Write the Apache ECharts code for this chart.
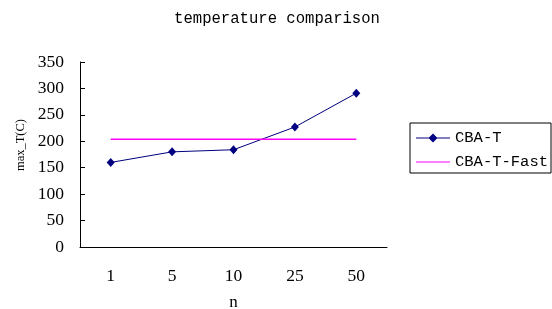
<!DOCTYPE html>
<html><head><meta charset="utf-8">
<script src="https://cdn.jsdelivr.net/npm/echarts@6/dist/echarts.min.js"></script>
<style>html,body{margin:0;padding:0;background:#fff}#c{width:552px;height:309px}</style>
</head><body><div id="c"></div>
<script>
const categories = ['1', '5', '10', '25', '50'];
const cbaT = [160, 180, 184, 227, 291];
const cbaTFast = [204, 204, 204, 204, 204];
const yTicks = [0, 50, 100, 150, 200, 250, 300, 350];

const MONO = '"Liberation Mono", monospace';
const SERIF = '"Liberation Serif", serif';
const chart = echarts.init(document.getElementById('c'), null, {renderer: 'canvas'});
chart.setOption({
  animation: false,
  backgroundColor: '#ffffff',
  title: {
    text: 'temperature comparison',
    left: 272, top: 6, textAlign: 'center',
    textStyle: {fontFamily: MONO, fontSize: 15.6, fontWeight: 'normal', color: '#000'}
  },
  legend: {
    orient: 'vertical', left: 410, top: 123,
    borderColor: '#000', borderWidth: 1, padding: [7, 3, 3, 6],
    itemWidth: 34, itemHeight: 9, itemGap: 8,
    textStyle: {fontFamily: MONO, fontSize: 15.5, color: '#000', padding: [0, 0, 0, 0]},
    data: [
      {name: 'CBA-T', icon: 'path://M0,4.5L34,4.5L34,5.5L0,5.5ZM17,0.5L21.5,5L17,9.5L12.5,5Z'},
      {name: 'CBA-T-Fast', icon: 'path://M0,4.5L34,4.5L34,5.5L0,5.5Z'}
    ]
  },
  grid: {left: 80, right: 165, top: 62, bottom: 62, outerBoundsMode: 'none', containLabel: false},
  xAxis: {
    type: 'category', data: categories, boundaryGap: true,
    name: 'n', nameLocation: 'middle', nameGap: 47,
    nameTextStyle: {fontFamily: SERIF, fontSize: 17, color: '#000'},
    axisLine: {lineStyle: {color: '#000', width: 1}},
    axisTick: {inside: true, length: 5, lineStyle: {color: '#000'}},
    axisLabel: {fontFamily: SERIF, fontSize: 17.5, color: '#000', margin: 20},
    splitLine: {show: false}
  },
  yAxis: {
    type: 'value', min: yTicks[0], max: yTicks[yTicks.length - 1], interval: 50,
    name: 'max_T(C)', nameLocation: 'middle', nameGap: 52, nameRotate: 90,
    nameTextStyle: {fontFamily: SERIF, fontSize: 12.5, color: '#000', padding: [0, 0, 0, 19]},
    axisLine: {show: true, lineStyle: {color: '#000', width: 1}},
    axisTick: {show: true, inside: true, length: 5, lineStyle: {color: '#000'}},
    axisLabel: {fontFamily: SERIF, fontSize: 17.5, color: '#000', margin: 16},
    splitLine: {show: false}
  },
  series: [
    {
      name: 'CBA-T', type: 'line', data: cbaT,
      symbol: 'diamond', symbolSize: [8, 9], showSymbol: true,
      lineStyle: {color: '#000080', width: 1},
      itemStyle: {color: '#000080'}
    },
    {
      name: 'CBA-T-Fast', type: 'line', data: cbaTFast,
      symbol: 'none',
      lineStyle: {color: '#ff00ff', width: 1.5},
      itemStyle: {color: '#ff00ff'}
    }
  ]
});
</script></body></html>
